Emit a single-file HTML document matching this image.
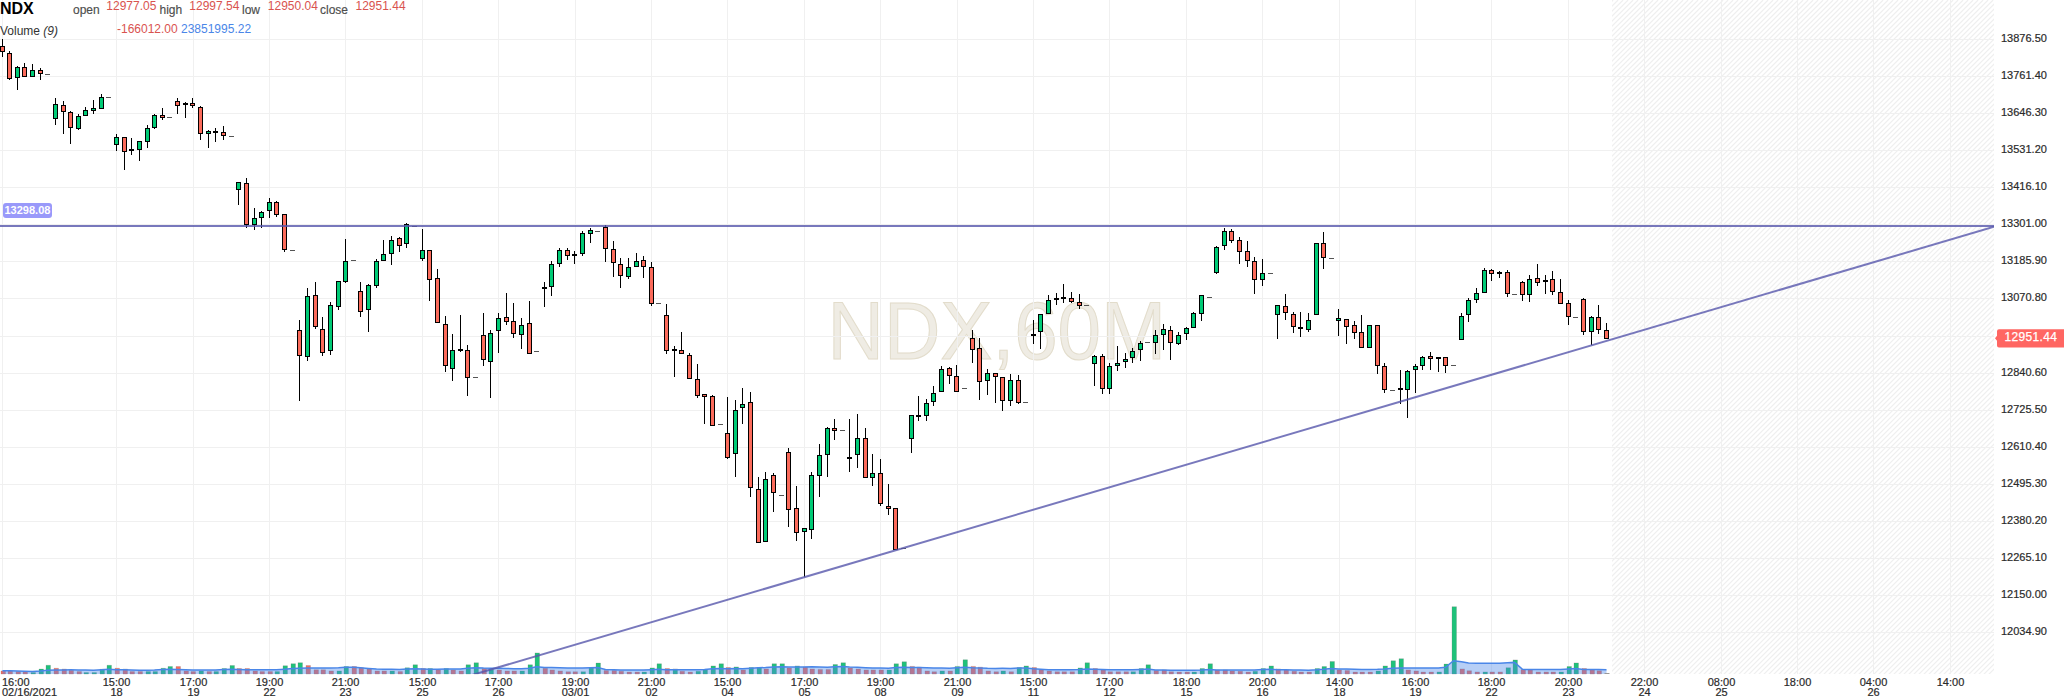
<!DOCTYPE html><html><head><meta charset="utf-8"><style>html,body{margin:0;padding:0;background:#fff;width:2064px;height:700px;overflow:hidden}svg{display:block}text{font-family:"Liberation Sans",sans-serif}</style></head><body>
<svg width="2064" height="700" viewBox="0 0 2064 700">
<defs><pattern id="hatch" patternUnits="userSpaceOnUse" width="5" height="5"><path d="M-1,1 L1,-1 M0,5 L5,0 M4,6 L6,4" stroke="#e6e6e6" stroke-width="1"/></pattern><clipPath id="plot"><rect x="0" y="0" width="1994" height="674"/></clipPath></defs>
<rect width="2064" height="700" fill="#fff"/>
<clipPath id="hclip"><rect x="1612" y="0" width="382" height="674"/></clipPath>
<path clip-path="url(#hclip)" d="M1603.1,0L923.1,680M1608.1,0L928.1,680M1613.1,0L933.1,680M1618.1,0L938.1,680M1623.1,0L943.1,680M1628.1,0L948.1,680M1633.1,0L953.1,680M1638.1,0L958.1,680M1643.1,0L963.1,680M1648.1,0L968.1,680M1653.1,0L973.1,680M1658.1,0L978.1,680M1663.1,0L983.1,680M1668.1,0L988.1,680M1673.1,0L993.1,680M1678.1,0L998.1,680M1683.1,0L1003.1,680M1688.1,0L1008.1,680M1693.1,0L1013.1,680M1698.1,0L1018.1,680M1703.1,0L1023.1,680M1708.1,0L1028.1,680M1713.1,0L1033.1,680M1718.1,0L1038.1,680M1723.1,0L1043.1,680M1728.1,0L1048.1,680M1733.1,0L1053.1,680M1738.1,0L1058.1,680M1743.1,0L1063.1,680M1748.1,0L1068.1,680M1753.1,0L1073.1,680M1758.1,0L1078.1,680M1763.1,0L1083.1,680M1768.1,0L1088.1,680M1773.1,0L1093.1,680M1778.1,0L1098.1,680M1783.1,0L1103.1,680M1788.1,0L1108.1,680M1793.1,0L1113.1,680M1798.1,0L1118.1,680M1803.1,0L1123.1,680M1808.1,0L1128.1,680M1813.1,0L1133.1,680M1818.1,0L1138.1,680M1823.1,0L1143.1,680M1828.1,0L1148.1,680M1833.1,0L1153.1,680M1838.1,0L1158.1,680M1843.1,0L1163.1,680M1848.1,0L1168.1,680M1853.1,0L1173.1,680M1858.1,0L1178.1,680M1863.1,0L1183.1,680M1868.1,0L1188.1,680M1873.1,0L1193.1,680M1878.1,0L1198.1,680M1883.1,0L1203.1,680M1888.1,0L1208.1,680M1893.1,0L1213.1,680M1898.1,0L1218.1,680M1903.1,0L1223.1,680M1908.1,0L1228.1,680M1913.1,0L1233.1,680M1918.1,0L1238.1,680M1923.1,0L1243.1,680M1928.1,0L1248.1,680M1933.1,0L1253.1,680M1938.1,0L1258.1,680M1943.1,0L1263.1,680M1948.1,0L1268.1,680M1953.1,0L1273.1,680M1958.1,0L1278.1,680M1963.1,0L1283.1,680M1968.1,0L1288.1,680M1973.1,0L1293.1,680M1978.1,0L1298.1,680M1983.1,0L1303.1,680M1988.1,0L1308.1,680M1993.1,0L1313.1,680M1998.1,0L1318.1,680M2003.1,0L1323.1,680M2008.1,0L1328.1,680M2013.1,0L1333.1,680M2018.1,0L1338.1,680M2023.1,0L1343.1,680M2028.1,0L1348.1,680M2033.1,0L1353.1,680M2038.1,0L1358.1,680M2043.1,0L1363.1,680M2048.1,0L1368.1,680M2053.1,0L1373.1,680M2058.1,0L1378.1,680M2063.1,0L1383.1,680M2068.1,0L1388.1,680M2073.1,0L1393.1,680M2078.1,0L1398.1,680M2083.1,0L1403.1,680M2088.1,0L1408.1,680M2093.1,0L1413.1,680M2098.1,0L1418.1,680M2103.1,0L1423.1,680M2108.1,0L1428.1,680M2113.1,0L1433.1,680M2118.1,0L1438.1,680M2123.1,0L1443.1,680M2128.1,0L1448.1,680M2133.1,0L1453.1,680M2138.1,0L1458.1,680M2143.1,0L1463.1,680M2148.1,0L1468.1,680M2153.1,0L1473.1,680M2158.1,0L1478.1,680M2163.1,0L1483.1,680M2168.1,0L1488.1,680M2173.1,0L1493.1,680M2178.1,0L1498.1,680M2183.1,0L1503.1,680M2188.1,0L1508.1,680M2193.1,0L1513.1,680M2198.1,0L1518.1,680M2203.1,0L1523.1,680M2208.1,0L1528.1,680M2213.1,0L1533.1,680M2218.1,0L1538.1,680M2223.1,0L1543.1,680M2228.1,0L1548.1,680M2233.1,0L1553.1,680M2238.1,0L1558.1,680M2243.1,0L1563.1,680M2248.1,0L1568.1,680M2253.1,0L1573.1,680M2258.1,0L1578.1,680M2263.1,0L1583.1,680M2268.1,0L1588.1,680M2273.1,0L1593.1,680M2278.1,0L1598.1,680M2283.1,0L1603.1,680M2288.1,0L1608.1,680M2293.1,0L1613.1,680M2298.1,0L1618.1,680M2303.1,0L1623.1,680M2308.1,0L1628.1,680M2313.1,0L1633.1,680M2318.1,0L1638.1,680M2323.1,0L1643.1,680M2328.1,0L1648.1,680M2333.1,0L1653.1,680M2338.1,0L1658.1,680M2343.1,0L1663.1,680M2348.1,0L1668.1,680M2353.1,0L1673.1,680M2358.1,0L1678.1,680M2363.1,0L1683.1,680M2368.1,0L1688.1,680M2373.1,0L1693.1,680M2378.1,0L1698.1,680M2383.1,0L1703.1,680M2388.1,0L1708.1,680M2393.1,0L1713.1,680M2398.1,0L1718.1,680M2403.1,0L1723.1,680M2408.1,0L1728.1,680M2413.1,0L1733.1,680M2418.1,0L1738.1,680M2423.1,0L1743.1,680M2428.1,0L1748.1,680M2433.1,0L1753.1,680M2438.1,0L1758.1,680M2443.1,0L1763.1,680M2448.1,0L1768.1,680M2453.1,0L1773.1,680M2458.1,0L1778.1,680M2463.1,0L1783.1,680M2468.1,0L1788.1,680M2473.1,0L1793.1,680M2478.1,0L1798.1,680M2483.1,0L1803.1,680M2488.1,0L1808.1,680M2493.1,0L1813.1,680M2498.1,0L1818.1,680M2503.1,0L1823.1,680M2508.1,0L1828.1,680M2513.1,0L1833.1,680M2518.1,0L1838.1,680M2523.1,0L1843.1,680M2528.1,0L1848.1,680M2533.1,0L1853.1,680M2538.1,0L1858.1,680M2543.1,0L1863.1,680M2548.1,0L1868.1,680M2553.1,0L1873.1,680M2558.1,0L1878.1,680M2563.1,0L1883.1,680M2568.1,0L1888.1,680M2573.1,0L1893.1,680M2578.1,0L1898.1,680M2583.1,0L1903.1,680M2588.1,0L1908.1,680M2593.1,0L1913.1,680M2598.1,0L1918.1,680M2603.1,0L1923.1,680M2608.1,0L1928.1,680M2613.1,0L1933.1,680M2618.1,0L1938.1,680M2623.1,0L1943.1,680M2628.1,0L1948.1,680M2633.1,0L1953.1,680M2638.1,0L1958.1,680M2643.1,0L1963.1,680M2648.1,0L1968.1,680M2653.1,0L1973.1,680M2658.1,0L1978.1,680M2663.1,0L1983.1,680" stroke="#efefef" stroke-width="1.2" fill="none"/>
<text transform="translate(827.5,359) scale(0.967,1)" x="0" y="0" font-size="80.8" fill="#efece4" stroke="#e2dccb" stroke-width="1">NDX,60M</text>
<path d="M2.5,0V674M116.5,0V674M193.5,0V674M269.5,0V674M345.5,0V674M422.5,0V674M498.5,0V674M575.5,0V674M651.5,0V674M727.5,0V674M804.5,0V674M880.5,0V674M957.5,0V674M1033.5,0V674M1109.5,0V674M1186.5,0V674M1262.5,0V674M1339.5,0V674M1415.5,0V674M1491.5,0V674M1568.5,0V674M1644.5,0V674M1721.5,0V674M1797.5,0V674M1873.5,0V674M1950.5,0V674M0,39.5H1994M0,76.5H1994M0,113.5H1994M0,150.5H1994M0,187.5H1994M0,224.5H1994M0,261.5H1994M0,298.5H1994M0,336.5H1994M0,373.5H1994M0,410.5H1994M0,447.5H1994M0,484.5H1994M0,521.5H1994M0,558.5H1994M0,595.5H1994M0,632.5H1994" stroke="#f0f0f0" stroke-width="1" fill="none"/>
<path d="M2.5,39V57M9.5,51V80M17.5,66V90M24.5,63V77M32.5,64V77M40.5,68V80M55.5,98V125M63.5,101V134M70.5,111V144M78.5,114V130M85.5,107V116M93.5,100V114M101.5,94V109M116.5,134V151M124.5,137V170M131.5,138V155M139.5,141V161M147.5,125V148M154.5,114V129M162.5,108V120M177.5,98V114M185.5,102V118M192.5,98V108M200.5,106V140M208.5,130V148M215.5,128V142M223.5,126V140M238.5,182V205M246.5,178V228M254.5,208V230M261.5,211V228M269.5,198V218M276.5,201V217M284.5,214V252M299.5,320V401M307.5,288V361M315.5,282V329M322.5,317V356M330.5,302V355M338.5,281V310M345.5,239V283M360.5,282V317M368.5,284V332M376.5,259V288M383.5,240V261M391.5,236V265M399.5,237V252M406.5,223V248M422.5,229V261M429.5,250V301M437.5,269V323M445.5,316V372M452.5,334V381M460.5,315V352M467.5,345V396M483.5,313V366M490.5,330V398M498.5,313V353M506.5,293V325M513.5,303V338M521.5,318V349M529.5,301V354M544.5,282V307M551.5,261V296M559.5,248V267M567.5,248V260M574.5,251V264M582.5,231V256M590.5,228V243M605.5,225V262M613.5,241V277M620.5,258V288M628.5,258V279M636.5,253V267M643.5,256V278M651.5,262V306M666.5,304V354M674.5,346V377M681.5,332V354M689.5,353V379M697.5,364V398M704.5,394V424M712.5,395V426M727.5,397V459M735.5,400V477M742.5,388V424M750.5,392V497M758.5,477V543M765.5,472V542M773.5,473V512M788.5,448V527M796.5,486V541M804.5,528V577M811.5,472V539M819.5,444V497M827.5,427V477M834.5,419V440M849.5,419V472M857.5,414V468M865.5,428V478M872.5,454V486M880.5,459V506M888.5,484V515M895.5,508V550M911.5,415V453M918.5,396V421M926.5,399V421M933.5,386V406M941.5,366V392M949.5,367V384M956.5,365V392M972.5,330V363M979.5,338V400M987.5,369V395M995.5,373V403M1002.5,377V411M1010.5,374V406M1018.5,375V404M1033.5,320V344M1040.5,314V349M1048.5,295V314M1056.5,293V305M1063.5,284V303M1071.5,292V303M1079.5,294V309M1094.5,355V386M1102.5,354V394M1109.5,363V394M1117.5,346V371M1125.5,353V368M1132.5,348V363M1140.5,341V361M1155.5,330V354M1163.5,324V350M1170.5,326V360M1178.5,332V345M1186.5,327V340M1193.5,312V328M1201.5,295V321M1216.5,246V274M1224.5,228V250M1231.5,229V243M1239.5,237V264M1247.5,241V267M1254.5,257V294M1262.5,259V286M1277.5,305V339M1285.5,294V320M1293.5,312V333M1300.5,312V337M1308.5,313V332M1316.5,243V315M1323.5,232V269M1338.5,309V336M1346.5,319V344M1354.5,321V339M1361.5,315V348M1369.5,325V348M1377.5,325V374M1384.5,363V393M1400.5,370V404M1407.5,370V418M1415.5,364V393M1422.5,356V370M1430.5,352V370M1438.5,357V372M1445.5,357V373M1461.5,313V340M1468.5,298V322M1476.5,288V303M1484.5,268V293M1491.5,269V281M1499.5,271V278M1507.5,270V297M1522.5,281V301M1529.5,275V302M1537.5,264V286M1545.5,275V294M1552.5,271V295M1560.5,279V304M1568.5,300V325M1583.5,298V335M1591.5,316V345M1598.5,305V334M1606.5,323V339" stroke="#000" stroke-width="1" fill="none"/>
<path d="M0,46h5v6h-5zM7,53h5v26h-5zM15,67h5v11h-5zM22,67h5v10h-5zM30,70h5v7h-5zM38,70h5v4h-5zM53,104h5v15h-5zM61,105h5v7h-5zM68,112h5v16h-5zM76,116h5v13h-5zM83,110h5v6h-5zM91,108h5v3h-5zM99,97h5v12h-5zM114,137h5v8h-5zM122,137h5v15h-5zM129,149h5v2h-5zM137,141h5v9h-5zM145,128h5v14h-5zM152,115h5v13h-5zM160,115h5v3h-5zM175,101h5v5h-5zM183,103h5v2h-5zM190,103h5v3h-5zM198,107h5v27h-5zM206,131h5v3h-5zM213,131h5v2h-5zM221,132h5v4h-5zM236,182h5v8h-5zM244,183h5v42h-5zM252,218h5v7h-5zM259,212h5v6h-5zM267,202h5v9h-5zM274,202h5v13h-5zM282,214h5v36h-5zM297,330h5v26h-5zM305,296h5v61h-5zM313,295h5v32h-5zM320,329h5v24h-5zM328,305h5v46h-5zM336,281h5v26h-5zM343,261h5v21h-5zM358,291h5v21h-5zM366,285h5v25h-5zM374,261h5v25h-5zM381,254h5v7h-5zM389,240h5v14h-5zM397,238h5v8h-5zM404,224h5v20h-5zM420,250h5v9h-5zM427,250h5v30h-5zM435,278h5v45h-5zM443,324h5v42h-5zM450,350h5v19h-5zM458,349h5v2h-5zM465,350h5v28h-5zM481,335h5v25h-5zM488,333h5v29h-5zM496,318h5v13h-5zM504,317h5v5h-5zM511,321h5v13h-5zM519,325h5v10h-5zM527,323h5v31h-5zM542,287h5v2h-5zM549,264h5v23h-5zM557,250h5v14h-5zM565,250h5v6h-5zM572,254h5v2h-5zM580,233h5v21h-5zM588,230h5v4h-5zM603,227h5v22h-5zM611,249h5v14h-5zM618,264h5v12h-5zM626,267h5v10h-5zM634,261h5v6h-5zM641,260h5v7h-5zM649,267h5v37h-5zM664,315h5v36h-5zM672,349h5v2h-5zM679,350h5v4h-5zM687,355h5v24h-5zM695,379h5v17h-5zM702,394h5v3h-5zM710,396h5v30h-5zM725,433h5v25h-5zM733,410h5v44h-5zM740,404h5v4h-5zM748,402h5v86h-5zM756,489h5v54h-5zM763,479h5v63h-5zM771,475h5v18h-5zM786,452h5v58h-5zM794,508h5v25h-5zM802,528h5v4h-5zM809,475h5v55h-5zM817,455h5v21h-5zM825,428h5v27h-5zM832,428h5v3h-5zM847,457h5v2h-5zM855,438h5v17h-5zM863,438h5v40h-5zM870,473h5v5h-5zM878,473h5v31h-5zM886,506h5v3h-5zM893,508h5v42h-5zM909,415h5v24h-5zM916,415h5v2h-5zM924,403h5v13h-5zM931,393h5v9h-5zM939,369h5v23h-5zM947,368h5v8h-5zM954,376h5v16h-5zM970,338h5v12h-5zM977,348h5v34h-5zM985,373h5v8h-5zM993,373h5v4h-5zM1000,377h5v24h-5zM1008,380h5v21h-5zM1016,380h5v23h-5zM1031,334h5v2h-5zM1038,314h5v18h-5zM1046,300h5v14h-5zM1054,298h5v2h-5zM1061,297h5v2h-5zM1069,298h5v4h-5zM1077,302h5v4h-5zM1092,356h5v8h-5zM1100,356h5v33h-5zM1107,366h5v23h-5zM1115,363h5v3h-5zM1123,359h5v3h-5zM1130,351h5v7h-5zM1138,343h5v7h-5zM1153,335h5v8h-5zM1161,329h5v6h-5zM1168,330h5v13h-5zM1176,335h5v9h-5zM1184,328h5v6h-5zM1191,313h5v15h-5zM1199,295h5v19h-5zM1214,247h5v26h-5zM1222,231h5v15h-5zM1229,231h5v10h-5zM1237,240h5v12h-5zM1245,251h5v10h-5zM1252,261h5v19h-5zM1260,273h5v7h-5zM1275,305h5v10h-5zM1283,306h5v7h-5zM1291,314h5v13h-5zM1298,327h5v2h-5zM1306,320h5v10h-5zM1314,243h5v72h-5zM1321,243h5v15h-5zM1336,318h5v3h-5zM1344,319h5v8h-5zM1352,325h5v8h-5zM1359,332h5v16h-5zM1367,325h5v23h-5zM1375,325h5v41h-5zM1382,366h5v24h-5zM1398,388h5v2h-5zM1405,371h5v19h-5zM1413,366h5v4h-5zM1420,357h5v9h-5zM1428,356h5v3h-5zM1436,357h5v2h-5zM1443,357h5v9h-5zM1459,316h5v24h-5zM1466,300h5v15h-5zM1474,293h5v7h-5zM1482,270h5v23h-5zM1489,270h5v4h-5zM1497,272h5v2h-5zM1505,272h5v22h-5zM1520,282h5v13h-5zM1527,279h5v16h-5zM1535,278h5v5h-5zM1543,280h5v2h-5zM1550,279h5v13h-5zM1558,292h5v12h-5zM1566,303h5v14h-5zM1581,299h5v33h-5zM1589,317h5v15h-5zM1596,317h5v13h-5zM1604,330h5v9h-5z" fill="#000"/>
<path d="M16,68h3v9h-3zM31,71h3v5h-3zM54,105h3v13h-3zM77,117h3v11h-3zM84,111h3v4h-3zM92,109h3v1h-3zM100,98h3v10h-3zM115,138h3v6h-3zM138,142h3v7h-3zM146,129h3v12h-3zM153,116h3v11h-3zM207,132h3v1h-3zM237,183h3v6h-3zM253,219h3v5h-3zM260,213h3v4h-3zM268,203h3v7h-3zM306,297h3v59h-3zM329,306h3v44h-3zM337,282h3v24h-3zM344,262h3v19h-3zM367,286h3v23h-3zM375,262h3v23h-3zM382,255h3v5h-3zM390,241h3v12h-3zM405,225h3v18h-3zM421,251h3v7h-3zM451,351h3v17h-3zM489,334h3v27h-3zM497,319h3v11h-3zM520,326h3v8h-3zM550,265h3v21h-3zM558,251h3v12h-3zM581,234h3v19h-3zM589,231h3v2h-3zM627,268h3v8h-3zM635,262h3v4h-3zM734,411h3v42h-3zM741,405h3v2h-3zM764,480h3v61h-3zM803,529h3v2h-3zM810,476h3v53h-3zM818,456h3v19h-3zM826,429h3v25h-3zM856,439h3v15h-3zM871,474h3v3h-3zM910,416h3v22h-3zM925,404h3v11h-3zM932,394h3v7h-3zM940,370h3v21h-3zM986,374h3v6h-3zM1009,381h3v19h-3zM1039,315h3v16h-3zM1047,301h3v12h-3zM1093,357h3v6h-3zM1108,367h3v21h-3zM1116,364h3v1h-3zM1124,360h3v1h-3zM1131,352h3v5h-3zM1139,344h3v5h-3zM1154,336h3v6h-3zM1162,330h3v4h-3zM1177,336h3v7h-3zM1185,329h3v4h-3zM1192,314h3v13h-3zM1200,296h3v17h-3zM1215,248h3v24h-3zM1223,232h3v13h-3zM1261,274h3v5h-3zM1276,306h3v8h-3zM1307,321h3v8h-3zM1315,244h3v70h-3zM1337,319h3v1h-3zM1368,326h3v21h-3zM1406,372h3v17h-3zM1414,367h3v2h-3zM1421,358h3v7h-3zM1460,317h3v22h-3zM1467,301h3v13h-3zM1475,294h3v5h-3zM1483,271h3v21h-3zM1528,280h3v14h-3zM1590,318h3v13h-3z" fill="#00cb76"/>
<path d="M1,47h3v4h-3zM8,54h3v24h-3zM23,68h3v8h-3zM39,71h3v2h-3zM62,106h3v5h-3zM69,113h3v14h-3zM123,138h3v13h-3zM161,116h3v1h-3zM176,102h3v3h-3zM191,104h3v1h-3zM199,108h3v25h-3zM222,133h3v2h-3zM245,184h3v40h-3zM275,203h3v11h-3zM283,215h3v34h-3zM298,331h3v24h-3zM314,296h3v30h-3zM321,330h3v22h-3zM359,292h3v19h-3zM398,239h3v6h-3zM428,251h3v28h-3zM436,279h3v43h-3zM444,325h3v40h-3zM466,351h3v26h-3zM482,336h3v23h-3zM505,318h3v3h-3zM512,322h3v11h-3zM528,324h3v29h-3zM566,251h3v4h-3zM604,228h3v20h-3zM612,250h3v12h-3zM619,265h3v10h-3zM642,261h3v5h-3zM650,268h3v35h-3zM665,316h3v34h-3zM680,351h3v2h-3zM688,356h3v22h-3zM696,380h3v15h-3zM703,395h3v1h-3zM711,397h3v28h-3zM726,434h3v23h-3zM749,403h3v84h-3zM757,490h3v52h-3zM772,476h3v16h-3zM787,453h3v56h-3zM795,509h3v23h-3zM833,429h3v1h-3zM864,439h3v38h-3zM879,474h3v29h-3zM887,507h3v1h-3zM894,509h3v40h-3zM948,369h3v6h-3zM955,377h3v14h-3zM971,339h3v10h-3zM978,349h3v32h-3zM994,374h3v2h-3zM1001,378h3v22h-3zM1017,381h3v21h-3zM1070,299h3v2h-3zM1078,303h3v2h-3zM1101,357h3v31h-3zM1169,331h3v11h-3zM1230,232h3v8h-3zM1238,241h3v10h-3zM1246,252h3v8h-3zM1253,262h3v17h-3zM1284,307h3v5h-3zM1292,315h3v11h-3zM1322,244h3v13h-3zM1345,320h3v6h-3zM1353,326h3v6h-3zM1360,333h3v14h-3zM1376,326h3v39h-3zM1383,367h3v22h-3zM1429,357h3v1h-3zM1444,358h3v7h-3zM1490,271h3v2h-3zM1506,273h3v20h-3zM1521,283h3v11h-3zM1536,279h3v3h-3zM1551,280h3v11h-3zM1559,293h3v10h-3zM1567,304h3v12h-3zM1582,300h3v31h-3zM1597,318h3v11h-3zM1605,331h3v7h-3z" fill="#fb6b5b"/>
<path d="M45,74.5h5M106,97.5h5M167,117.5h5M229,136.5h5M290,250.5h5M351,260.5h5M412,226.5h5M473,377.5h5M534,351.5h5M595,231.5h5M656,303.5h5M718,424.5h5M779,495.5h5M840,430.5h5M901,548.5h5M962,388.5h5M1023,402.5h5M1084,305.5h5M1145,342.5h5M1207,297.5h5M1268,273.5h5M1329,258.5h5M1390,390.5h5M1451,365.5h5M1512,294.5h5M1573,317.5h5" stroke="#555" stroke-width="1" fill="none"/>
<path d="M31,672.6h4.5V674h-4.5zM39,669.1h4.5V674h-4.5zM46,665.3h4.5V674h-4.5zM84,672.6h4.5V674h-4.5zM92,672.6h4.5V674h-4.5zM100,669.3h4.5V674h-4.5zM107,665.3h4.5V674h-4.5zM146,671.6h4.5V674h-4.5zM153,671.6h4.5V674h-4.5zM161,668.3h4.5V674h-4.5zM168,666.5h4.5V674h-4.5zM199,670.9h4.5V674h-4.5zM214,671.6h4.5V674h-4.5zM222,668.5h4.5V674h-4.5zM230,665.5h4.5V674h-4.5zM275,671.6h4.5V674h-4.5zM283,665.8h4.5V674h-4.5zM291,663.7h4.5V674h-4.5zM298,662.7h4.5V674h-4.5zM337,670.9h4.5V674h-4.5zM344,666.5h4.5V674h-4.5zM390,670.9h4.5V674h-4.5zM405,667.8h4.5V674h-4.5zM413,664.8h4.5V674h-4.5zM428,668.6h4.5V674h-4.5zM444,668.6h4.5V674h-4.5zM466,664.8h4.5V674h-4.5zM474,662.8h4.5V674h-4.5zM489,669.4h4.5V674h-4.5zM520,670.9h4.5V674h-4.5zM528,664.8h4.5V674h-4.5zM535,652.9h4.5V674h-4.5zM581,671.7h4.5V674h-4.5zM589,667.9h4.5V674h-4.5zM596,663.1h4.5V674h-4.5zM642,672.0h4.5V674h-4.5zM650,667.9h4.5V674h-4.5zM657,663.8h4.5V674h-4.5zM673,668.9h4.5V674h-4.5zM696,671.2h4.5V674h-4.5zM703,669.9h4.5V674h-4.5zM711,665.9h4.5V674h-4.5zM719,663.8h4.5V674h-4.5zM734,666.9h4.5V674h-4.5zM749,667.6h4.5V674h-4.5zM757,667.6h4.5V674h-4.5zM772,663.8h4.5V674h-4.5zM780,663.8h4.5V674h-4.5zM795,665.9h4.5V674h-4.5zM833,664.5h4.5V674h-4.5zM841,662.8h4.5V674h-4.5zM887,669.9h4.5V674h-4.5zM894,663.8h4.5V674h-4.5zM902,661.8h4.5V674h-4.5zM940,670.9h4.5V674h-4.5zM955,666.4h4.5V674h-4.5zM963,659.8h4.5V674h-4.5zM1001,670.9h4.5V674h-4.5zM1017,667.6h4.5V674h-4.5zM1024,665.9h4.5V674h-4.5zM1078,667.9h4.5V674h-4.5zM1085,662.8h4.5V674h-4.5zM1131,671.7h4.5V674h-4.5zM1139,668.6h4.5V674h-4.5zM1146,664.8h4.5V674h-4.5zM1192,672.0h4.5V674h-4.5zM1200,668.6h4.5V674h-4.5zM1208,663.8h4.5V674h-4.5zM1253,671.2h4.5V674h-4.5zM1261,668.6h4.5V674h-4.5zM1269,665.9h4.5V674h-4.5zM1315,668.6h4.5V674h-4.5zM1322,666.6h4.5V674h-4.5zM1330,661.5h4.5V674h-4.5zM1376,670.9h4.5V674h-4.5zM1383,665.9h4.5V674h-4.5zM1391,660.8h4.5V674h-4.5zM1399,658.7h4.5V674h-4.5zM1437,671.9h4.5V674h-4.5zM1444,664.1h4.5V674h-4.5zM1452,606.7h4.5V674h-4.5zM1483,671.9h4.5V674h-4.5zM1506,667.7h4.5V674h-4.5zM1513,659.9h4.5V674h-4.5zM1559,671.9h4.5V674h-4.5zM1567,666.6h4.5V674h-4.5zM1574,662.9h4.5V674h-4.5z" fill="#1ec27a" stroke="rgba(120,120,120,0.25)" stroke-width="1"/>
<path d="M1,670.9h4.5V674h-4.5zM8,670.9h4.5V674h-4.5zM16,671.6h4.5V674h-4.5zM23,671.6h4.5V674h-4.5zM54,668.3h4.5V674h-4.5zM62,669.1h4.5V674h-4.5zM69,670.3h4.5V674h-4.5zM77,671.6h4.5V674h-4.5zM115,668.3h4.5V674h-4.5zM123,669.1h4.5V674h-4.5zM130,671.6h4.5V674h-4.5zM138,671.6h4.5V674h-4.5zM176,666.5h4.5V674h-4.5zM184,670.9h4.5V674h-4.5zM191,671.6h4.5V674h-4.5zM207,671.6h4.5V674h-4.5zM237,668.5h4.5V674h-4.5zM245,668.5h4.5V674h-4.5zM253,670.9h4.5V674h-4.5zM260,671.6h4.5V674h-4.5zM268,671.6h4.5V674h-4.5zM306,665.5h4.5V674h-4.5zM314,669.8h4.5V674h-4.5zM321,669.8h4.5V674h-4.5zM329,670.9h4.5V674h-4.5zM352,666.5h4.5V674h-4.5zM359,667.8h4.5V674h-4.5zM367,668.8h4.5V674h-4.5zM375,670.9h4.5V674h-4.5zM382,670.9h4.5V674h-4.5zM398,671.6h4.5V674h-4.5zM421,668.6h4.5V674h-4.5zM436,669.9h4.5V674h-4.5zM451,669.9h4.5V674h-4.5zM459,670.9h4.5V674h-4.5zM482,668.6h4.5V674h-4.5zM497,669.9h4.5V674h-4.5zM505,670.9h4.5V674h-4.5zM512,670.9h4.5V674h-4.5zM543,668.2h4.5V674h-4.5zM550,669.9h4.5V674h-4.5zM558,670.9h4.5V674h-4.5zM566,671.7h4.5V674h-4.5zM573,671.7h4.5V674h-4.5zM604,670.4h4.5V674h-4.5zM612,670.4h4.5V674h-4.5zM619,671.2h4.5V674h-4.5zM627,672.0h4.5V674h-4.5zM635,672.0h4.5V674h-4.5zM665,668.6h4.5V674h-4.5zM680,671.2h4.5V674h-4.5zM688,672.0h4.5V674h-4.5zM726,667.6h4.5V674h-4.5zM741,669.9h4.5V674h-4.5zM764,668.9h4.5V674h-4.5zM787,667.9h4.5V674h-4.5zM803,666.9h4.5V674h-4.5zM810,668.9h4.5V674h-4.5zM818,669.4h4.5V674h-4.5zM826,669.4h4.5V674h-4.5zM848,667.9h4.5V674h-4.5zM856,668.9h4.5V674h-4.5zM864,669.9h4.5V674h-4.5zM871,669.9h4.5V674h-4.5zM879,669.9h4.5V674h-4.5zM910,666.4h4.5V674h-4.5zM917,667.2h4.5V674h-4.5zM925,670.9h4.5V674h-4.5zM932,671.7h4.5V674h-4.5zM948,670.9h4.5V674h-4.5zM971,666.4h4.5V674h-4.5zM978,667.2h4.5V674h-4.5zM986,670.9h4.5V674h-4.5zM994,671.7h4.5V674h-4.5zM1009,671.7h4.5V674h-4.5zM1032,667.6h4.5V674h-4.5zM1039,669.9h4.5V674h-4.5zM1047,670.9h4.5V674h-4.5zM1055,671.7h4.5V674h-4.5zM1062,671.7h4.5V674h-4.5zM1070,671.7h4.5V674h-4.5zM1093,668.6h4.5V674h-4.5zM1101,669.9h4.5V674h-4.5zM1108,671.7h4.5V674h-4.5zM1116,671.7h4.5V674h-4.5zM1124,671.7h4.5V674h-4.5zM1154,670.4h4.5V674h-4.5zM1162,669.9h4.5V674h-4.5zM1169,671.7h4.5V674h-4.5zM1177,672.0h4.5V674h-4.5zM1185,672.0h4.5V674h-4.5zM1215,669.9h4.5V674h-4.5zM1223,669.9h4.5V674h-4.5zM1230,670.9h4.5V674h-4.5zM1238,671.2h4.5V674h-4.5zM1246,672.0h4.5V674h-4.5zM1276,668.9h4.5V674h-4.5zM1284,669.9h4.5V674h-4.5zM1292,671.2h4.5V674h-4.5zM1299,672.0h4.5V674h-4.5zM1307,672.0h4.5V674h-4.5zM1337,669.9h4.5V674h-4.5zM1345,670.4h4.5V674h-4.5zM1353,672.0h4.5V674h-4.5zM1360,672.0h4.5V674h-4.5zM1368,672.0h4.5V674h-4.5zM1406,669.9h4.5V674h-4.5zM1414,670.9h4.5V674h-4.5zM1421,672.0h4.5V674h-4.5zM1429,672.0h4.5V674h-4.5zM1460,668.9h4.5V674h-4.5zM1467,670.7h4.5V674h-4.5zM1475,671.9h4.5V674h-4.5zM1490,671.9h4.5V674h-4.5zM1498,671.9h4.5V674h-4.5zM1521,669.6h4.5V674h-4.5zM1528,669.6h4.5V674h-4.5zM1536,671.9h4.5V674h-4.5zM1544,671.9h4.5V674h-4.5zM1551,671.9h4.5V674h-4.5zM1582,668.5h4.5V674h-4.5zM1590,669.6h4.5V674h-4.5zM1597,670.7h4.5V674h-4.5z" fill="#fb6b5b" stroke="rgba(120,120,120,0.25)" stroke-width="1"/>
<polygon points="2.5,674 2.5,670.85 9.5,670.85 17.5,671.09 24.5,671.21 32.5,671.49 40.5,671.09 47.5,670.26 55.5,670.02 63.5,669.92 70.5,669.86 78.5,669.94 85.5,670.05 93.5,670.17 101.5,669.80 108.5,669.37 116.5,669.71 124.5,669.80 131.5,670.07 139.5,670.21 147.5,670.21 154.5,670.10 162.5,669.62 169.5,669.31 177.5,669.44 185.5,669.72 192.5,670.00 200.5,669.92 208.5,669.92 215.5,669.92 223.5,669.58 231.5,669.26 238.5,669.49 246.5,669.71 254.5,669.71 261.5,669.71 269.5,669.79 276.5,669.79 284.5,669.15 292.5,668.62 299.5,668.31 307.5,667.97 315.5,668.12 322.5,668.01 330.5,667.93 338.5,667.85 345.5,667.28 353.5,667.36 360.5,667.81 368.5,668.49 376.5,669.09 383.5,669.20 391.5,669.32 399.5,669.40 406.5,669.06 414.5,668.87 422.5,669.11 429.5,669.20 437.5,669.32 445.5,669.07 452.5,668.97 460.5,668.98 467.5,668.23 475.5,667.67 483.5,668.09 490.5,668.18 498.5,668.33 506.5,668.44 513.5,668.70 521.5,668.82 529.5,668.14 536.5,666.82 544.5,667.41 551.5,667.56 559.5,667.73 567.5,667.92 574.5,668.00 582.5,668.08 590.5,667.74 597.5,667.55 605.5,669.49 613.5,669.74 620.5,669.89 628.5,670.00 636.5,670.04 643.5,670.07 651.5,669.65 658.5,669.20 666.5,669.81 674.5,669.64 681.5,669.73 689.5,669.81 697.5,669.73 704.5,669.51 712.5,668.83 720.5,668.38 727.5,668.79 735.5,668.60 742.5,668.71 750.5,668.31 758.5,667.82 765.5,667.56 773.5,666.88 781.5,666.66 788.5,667.11 796.5,666.92 804.5,666.92 811.5,666.80 819.5,667.01 827.5,667.21 834.5,666.72 842.5,666.61 849.5,667.06 857.5,667.18 865.5,667.63 872.5,667.97 880.5,668.08 888.5,668.14 895.5,667.52 903.5,667.21 911.5,667.61 918.5,667.53 926.5,667.75 933.5,667.95 941.5,668.06 949.5,668.17 956.5,667.78 964.5,667.32 972.5,667.83 979.5,667.92 987.5,668.34 995.5,668.42 1002.5,668.34 1010.5,668.42 1018.5,668.05 1025.5,667.99 1033.5,668.86 1040.5,669.26 1048.5,669.68 1056.5,669.75 1063.5,669.75 1071.5,669.83 1079.5,669.42 1086.5,668.88 1094.5,669.19 1102.5,669.45 1109.5,669.64 1117.5,669.72 1125.5,669.72 1132.5,669.72 1140.5,669.38 1147.5,669.04 1155.5,669.89 1163.5,670.04 1170.5,670.23 1178.5,670.26 1186.5,670.30 1193.5,670.33 1201.5,669.99 1209.5,669.46 1216.5,670.03 1224.5,669.97 1231.5,670.08 1239.5,670.04 1247.5,670.04 1254.5,669.96 1262.5,669.58 1270.5,669.28 1277.5,669.84 1285.5,669.84 1293.5,669.99 1300.5,670.10 1308.5,670.18 1316.5,669.81 1323.5,669.29 1331.5,668.50 1338.5,668.95 1346.5,669.12 1354.5,669.35 1361.5,669.43 1369.5,669.43 1377.5,669.31 1384.5,669.01 1392.5,668.36 1400.5,668.06 1407.5,668.06 1415.5,668.12 1422.5,668.12 1430.5,668.12 1438.5,668.10 1445.5,667.34 1453.5,660.77 1461.5,661.66 1468.5,663.00 1476.5,663.21 1484.5,663.31 1491.5,663.30 1499.5,663.29 1507.5,662.83 1514.5,662.38 1522.5,669.37 1529.5,669.46 1537.5,669.58 1545.5,669.58 1552.5,669.58 1560.5,669.58 1568.5,669.00 1575.5,668.47 1583.5,669.42 1591.5,669.42 1598.5,669.54 1606.5,669.67 1606.5,674" fill="rgba(74,134,232,0.4)"/>
<polyline points="2.5,670.85 9.5,670.85 17.5,671.09 24.5,671.21 32.5,671.49 40.5,671.09 47.5,670.26 55.5,670.02 63.5,669.92 70.5,669.86 78.5,669.94 85.5,670.05 93.5,670.17 101.5,669.80 108.5,669.37 116.5,669.71 124.5,669.80 131.5,670.07 139.5,670.21 147.5,670.21 154.5,670.10 162.5,669.62 169.5,669.31 177.5,669.44 185.5,669.72 192.5,670.00 200.5,669.92 208.5,669.92 215.5,669.92 223.5,669.58 231.5,669.26 238.5,669.49 246.5,669.71 254.5,669.71 261.5,669.71 269.5,669.79 276.5,669.79 284.5,669.15 292.5,668.62 299.5,668.31 307.5,667.97 315.5,668.12 322.5,668.01 330.5,667.93 338.5,667.85 345.5,667.28 353.5,667.36 360.5,667.81 368.5,668.49 376.5,669.09 383.5,669.20 391.5,669.32 399.5,669.40 406.5,669.06 414.5,668.87 422.5,669.11 429.5,669.20 437.5,669.32 445.5,669.07 452.5,668.97 460.5,668.98 467.5,668.23 475.5,667.67 483.5,668.09 490.5,668.18 498.5,668.33 506.5,668.44 513.5,668.70 521.5,668.82 529.5,668.14 536.5,666.82 544.5,667.41 551.5,667.56 559.5,667.73 567.5,667.92 574.5,668.00 582.5,668.08 590.5,667.74 597.5,667.55 605.5,669.49 613.5,669.74 620.5,669.89 628.5,670.00 636.5,670.04 643.5,670.07 651.5,669.65 658.5,669.20 666.5,669.81 674.5,669.64 681.5,669.73 689.5,669.81 697.5,669.73 704.5,669.51 712.5,668.83 720.5,668.38 727.5,668.79 735.5,668.60 742.5,668.71 750.5,668.31 758.5,667.82 765.5,667.56 773.5,666.88 781.5,666.66 788.5,667.11 796.5,666.92 804.5,666.92 811.5,666.80 819.5,667.01 827.5,667.21 834.5,666.72 842.5,666.61 849.5,667.06 857.5,667.18 865.5,667.63 872.5,667.97 880.5,668.08 888.5,668.14 895.5,667.52 903.5,667.21 911.5,667.61 918.5,667.53 926.5,667.75 933.5,667.95 941.5,668.06 949.5,668.17 956.5,667.78 964.5,667.32 972.5,667.83 979.5,667.92 987.5,668.34 995.5,668.42 1002.5,668.34 1010.5,668.42 1018.5,668.05 1025.5,667.99 1033.5,668.86 1040.5,669.26 1048.5,669.68 1056.5,669.75 1063.5,669.75 1071.5,669.83 1079.5,669.42 1086.5,668.88 1094.5,669.19 1102.5,669.45 1109.5,669.64 1117.5,669.72 1125.5,669.72 1132.5,669.72 1140.5,669.38 1147.5,669.04 1155.5,669.89 1163.5,670.04 1170.5,670.23 1178.5,670.26 1186.5,670.30 1193.5,670.33 1201.5,669.99 1209.5,669.46 1216.5,670.03 1224.5,669.97 1231.5,670.08 1239.5,670.04 1247.5,670.04 1254.5,669.96 1262.5,669.58 1270.5,669.28 1277.5,669.84 1285.5,669.84 1293.5,669.99 1300.5,670.10 1308.5,670.18 1316.5,669.81 1323.5,669.29 1331.5,668.50 1338.5,668.95 1346.5,669.12 1354.5,669.35 1361.5,669.43 1369.5,669.43 1377.5,669.31 1384.5,669.01 1392.5,668.36 1400.5,668.06 1407.5,668.06 1415.5,668.12 1422.5,668.12 1430.5,668.12 1438.5,668.10 1445.5,667.34 1453.5,660.77 1461.5,661.66 1468.5,663.00 1476.5,663.21 1484.5,663.31 1491.5,663.30 1499.5,663.29 1507.5,662.83 1514.5,662.38 1522.5,669.37 1529.5,669.46 1537.5,669.58 1545.5,669.58 1552.5,669.58 1560.5,669.58 1568.5,669.00 1575.5,668.47 1583.5,669.42 1591.5,669.42 1598.5,669.54 1606.5,669.67" fill="none" stroke="#4a86e8" stroke-width="1.5"/>
<rect x="1604.5" y="673" width="5" height="1" fill="#999"/>
<rect x="0" y="225" width="1994" height="2" fill="rgba(86,86,171,0.8)"/>
<g clip-path="url(#plot)"><line x1="1994" y1="226.8" x2="460" y2="678.56" stroke="rgba(86,86,171,0.8)" stroke-width="2"/></g>
<text x="0" y="14" font-size="16" font-weight="bold" fill="#000">NDX</text>
<text x="73" y="14" font-size="12" fill="#4d4d4d" stroke="#4d4d4d" stroke-width="0.15">open</text>
<text x="159.5" y="14" font-size="12" fill="#4d4d4d" stroke="#4d4d4d" stroke-width="0.15">high</text>
<text x="242" y="14" font-size="12" fill="#4d4d4d" stroke="#4d4d4d" stroke-width="0.15">low</text>
<text x="320" y="14" font-size="12" fill="#4d4d4d" stroke="#4d4d4d" stroke-width="0.15">close</text>
<text x="106.3" y="9.9" font-size="12" fill="#d9534f">12977.05</text>
<text x="189.3" y="9.9" font-size="12" fill="#d9534f">12997.54</text>
<text x="267.8" y="9.9" font-size="12" fill="#d9534f">12950.04</text>
<text x="355.5" y="9.9" font-size="12" fill="#d9534f">12951.44</text>
<text x="0" y="34.9" font-size="12" fill="#333">Volume <tspan font-style="italic">(9)</tspan></text>
<text x="117" y="33.4" font-size="12" fill="#d9534f">-166012.00</text>
<text x="181" y="33.4" font-size="12" fill="#4a86e8">23851995.22</text>
<text x="2001" y="41.5" font-size="11" fill="#2a2a2a" stroke="#2a2a2a" stroke-width="0.2">13876.50</text>
<text x="2001" y="78.5" font-size="11" fill="#2a2a2a" stroke="#2a2a2a" stroke-width="0.2">13761.40</text>
<text x="2001" y="115.5" font-size="11" fill="#2a2a2a" stroke="#2a2a2a" stroke-width="0.2">13646.30</text>
<text x="2001" y="152.5" font-size="11" fill="#2a2a2a" stroke="#2a2a2a" stroke-width="0.2">13531.20</text>
<text x="2001" y="189.5" font-size="11" fill="#2a2a2a" stroke="#2a2a2a" stroke-width="0.2">13416.10</text>
<text x="2001" y="226.5" font-size="11" fill="#2a2a2a" stroke="#2a2a2a" stroke-width="0.2">13301.00</text>
<text x="2001" y="263.5" font-size="11" fill="#2a2a2a" stroke="#2a2a2a" stroke-width="0.2">13185.90</text>
<text x="2001" y="300.5" font-size="11" fill="#2a2a2a" stroke="#2a2a2a" stroke-width="0.2">13070.80</text>
<text x="2001" y="375.5" font-size="11" fill="#2a2a2a" stroke="#2a2a2a" stroke-width="0.2">12840.60</text>
<text x="2001" y="412.5" font-size="11" fill="#2a2a2a" stroke="#2a2a2a" stroke-width="0.2">12725.50</text>
<text x="2001" y="449.5" font-size="11" fill="#2a2a2a" stroke="#2a2a2a" stroke-width="0.2">12610.40</text>
<text x="2001" y="486.5" font-size="11" fill="#2a2a2a" stroke="#2a2a2a" stroke-width="0.2">12495.30</text>
<text x="2001" y="523.5" font-size="11" fill="#2a2a2a" stroke="#2a2a2a" stroke-width="0.2">12380.20</text>
<text x="2001" y="560.5" font-size="11" fill="#2a2a2a" stroke="#2a2a2a" stroke-width="0.2">12265.10</text>
<text x="2001" y="597.5" font-size="11" fill="#2a2a2a" stroke="#2a2a2a" stroke-width="0.2">12150.00</text>
<text x="2001" y="634.5" font-size="11" fill="#2a2a2a" stroke="#2a2a2a" stroke-width="0.2">12034.90</text>
<path d="M1995,338.2 L1997,335.7 L1997,331.3 Q1997,329.3 1999,329.3 L2064,329.3 L2064,347.4 L1999,347.4 Q1997,347.4 1997,345.4 L1997,340.7 Z" fill="#ff6662"/>
<text x="2004.5" y="341" font-size="12" fill="#fff" stroke="#fff" stroke-width="0.25" letter-spacing="0.35">12951.44</text>
<rect x="3" y="203" width="49" height="15" rx="3" fill="#9999fa"/>
<text x="4.5" y="214" font-size="11" font-weight="bold" fill="#fff">13298.08</text>
<g font-size="11" fill="#2a2a2a" stroke="#2a2a2a" stroke-width="0.2" text-anchor="middle">
<text x="116.5" y="686">15:00</text>
<text x="116.5" y="696">18</text>
<text x="193.5" y="686">17:00</text>
<text x="193.5" y="696">19</text>
<text x="269.5" y="686">19:00</text>
<text x="269.5" y="696">22</text>
<text x="345.5" y="686">21:00</text>
<text x="345.5" y="696">23</text>
<text x="422.5" y="686">15:00</text>
<text x="422.5" y="696">25</text>
<text x="498.5" y="686">17:00</text>
<text x="498.5" y="696">26</text>
<text x="575.5" y="686">19:00</text>
<text x="575.5" y="696">03/01</text>
<text x="651.5" y="686">21:00</text>
<text x="651.5" y="696">02</text>
<text x="727.5" y="686">15:00</text>
<text x="727.5" y="696">04</text>
<text x="804.5" y="686">17:00</text>
<text x="804.5" y="696">05</text>
<text x="880.5" y="686">19:00</text>
<text x="880.5" y="696">08</text>
<text x="957.5" y="686">21:00</text>
<text x="957.5" y="696">09</text>
<text x="1033.5" y="686">15:00</text>
<text x="1033.5" y="696">11</text>
<text x="1109.5" y="686">17:00</text>
<text x="1109.5" y="696">12</text>
<text x="1186.5" y="686">18:00</text>
<text x="1186.5" y="696">15</text>
<text x="1262.5" y="686">20:00</text>
<text x="1262.5" y="696">16</text>
<text x="1339.5" y="686">14:00</text>
<text x="1339.5" y="696">18</text>
<text x="1415.5" y="686">16:00</text>
<text x="1415.5" y="696">19</text>
<text x="1491.5" y="686">18:00</text>
<text x="1491.5" y="696">22</text>
<text x="1568.5" y="686">20:00</text>
<text x="1568.5" y="696">23</text>
<text x="1644.5" y="686">22:00</text>
<text x="1644.5" y="696">24</text>
<text x="1721.5" y="686">08:00</text>
<text x="1721.5" y="696">25</text>
<text x="1797.5" y="686">18:00</text>
<text x="1873.5" y="686">04:00</text>
<text x="1873.5" y="696">26</text>
<text x="1950.5" y="686">14:00</text>
</g>
<g fill="#2a2a2a" stroke="#2a2a2a" stroke-width="0.2" font-size="11"><text x="2" y="686">16:00</text><text x="2" y="696">02/16/2021</text></g>
</svg></body></html>
